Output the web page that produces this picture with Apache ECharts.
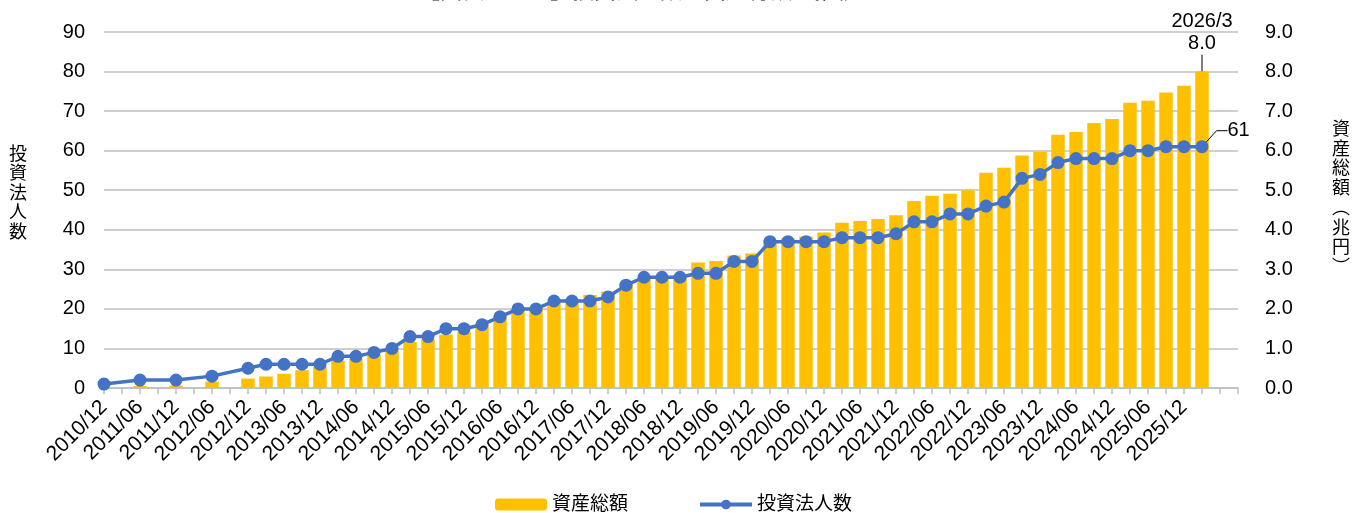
<!DOCTYPE html>
<html>
<head>
<meta charset="utf-8">
<script src="https://cdn.jsdelivr.net/npm/echarts@6/dist/echarts.min.js"></script>
<style>
  html, body { margin: 0; padding: 0; background: #fff; }
  #chart { width: 1367px; height: 513px; }
</style>
</head>
<body>
<div id="chart"></div>
<script>
// quarterly periods, early years are semi-annual only (nulls in between)
var periods = [
  '2010/12','2011/03','2011/06','2011/09','2011/12','2012/03','2012/06','2012/09','2012/12',
  '2013/03','2013/06','2013/09','2013/12','2014/03','2014/06','2014/09','2014/12',
  '2015/03','2015/06','2015/09','2015/12','2016/03','2016/06','2016/09','2016/12',
  '2017/03','2017/06','2017/09','2017/12','2018/03','2018/06','2018/09','2018/12',
  '2019/03','2019/06','2019/09','2019/12','2020/03','2020/06','2020/09','2020/12',
  '2021/03','2021/06','2021/09','2021/12','2022/03','2022/06','2022/09','2022/12',
  '2023/03','2023/06','2023/09','2023/12','2024/03','2024/06','2024/09','2024/12',
  '2025/03','2025/06','2025/09','2025/12','2026/03','',''
];
var lastPeriodText = '2026/3';

// 資産総額（兆円）
var assets = [
  null, null, 0.05, null, 0.06, null, 0.16, null, 0.24,
  0.29, 0.36, 0.45, 0.53, 0.69, 0.73, 0.84, 0.96,
  1.16, 1.23, 1.35, 1.42, 1.60, 1.83, 2.00, 2.03,
  2.17, 2.19, 2.35, 2.44, 2.65, 2.78, 2.81, 2.85,
  3.17, 3.21, 3.35, 3.40, 3.74, 3.79, 3.83, 3.93,
  4.18, 4.22, 4.27, 4.37, 4.73, 4.86, 4.91, 5.00,
  5.44, 5.57, 5.88, 5.97, 6.40, 6.47, 6.70, 6.80,
  7.21, 7.26, 7.47, 7.64, 8.0
];

// 投資法人数
var corps = [
  1, null, 2, null, 2, null, 3, null, 5,
  6, 6, 6, 6, 8, 8, 9, 10,
  13, 13, 15, 15, 16, 18, 20, 20,
  22, 22, 22, 23, 26, 28, 28, 28,
  29, 29, 32, 32, 37, 37, 37, 37,
  38, 38, 38, 39, 42, 42, 44, 44,
  46, 47, 53, 54, 57, 58, 58, 58,
  60, 60, 61, 61, 61
];

var leftTicks = [0, 90, 10];
var rightTicks = [0, 9, 1];

var FONT = "'Liberation Sans', 'Noto Sans CJK JP', sans-serif";
var last = assets.length - 1;

var barData = assets.map(function (v, i) {
  if (i !== last) return v;
  return {
    value: v,
    label: {
      show: true, position: 'top', distance: 5,
      formatter: lastPeriodText + '\n' + v.toFixed(1),
      fontSize: 20, lineHeight: 22, color: '#000', fontFamily: FONT
    }
  };
});

var lineData = corps.map(function (v, i) {
  if (i !== last) return v;
  return {
    value: v,
    label: {
      show: true, position: 'right', distance: 5,
      formatter: '' + v, padding: [0, 0, 0, 6],
      fontSize: 20, color: '#000', fontFamily: FONT
    }
  };
});

var myChart = echarts.init(document.getElementById('chart'));
var option = {
  animation: false,
  backgroundColor: '#fff',
  textStyle: { fontFamily: FONT },
  title: {
    text: '【図表１－１】投資法人数と資産総額の推移',
    left: 413, top: -24,
    textStyle: { fontSize: 22, fontWeight: 'normal', color: '#000', fontFamily: FONT }
  },
  graphic: [
    {
      type: 'text', left: 9, top: 145,
      style: { text: '投\n資\n法\n人\n数', font: '18px ' + FONT, lineHeight: 19.5, fill: '#000' }
    },
    {
      type: 'text', left: 1332, top: 120,
      style: { text: '資\n産\n総\n額\n︵\n兆\n円\n︶', font: '18px ' + FONT, lineHeight: 19.75, fill: '#000' }
    }
  ],
  legend: {
    left: 490, top: 490,
    itemWidth: 52, itemHeight: 12, itemGap: 70,
    textStyle: { fontSize: 19, color: '#000', fontFamily: FONT },
    lineStyle: { width: 4 },
    data: ['資産総額', '投資法人数']
  },
  grid: { left: 104, right: 129, top: 32, bottom: 125 },
  xAxis: {
    type: 'category',
    data: periods,
    boundaryGap: false,
    axisLine: { lineStyle: { color: '#BFBFBF', width: 1.5 } },
    axisTick: { interval: 0, length: 6, lineStyle: { color: '#BFBFBF', width: 1.5 } },
    axisLabel: { interval: 1, rotate: 45, margin: 16, fontSize: 21, color: '#000', fontFamily: FONT }
  },
  yAxis: [
    {
      type: 'value', min: leftTicks[0], max: leftTicks[1], interval: leftTicks[2],
      axisLine: { show: false }, axisTick: { show: false },
      axisLabel: { fontSize: 20, color: '#000', margin: 19, fontFamily: FONT },
      splitLine: { lineStyle: { color: '#BFBFBF', width: 1.5 } }
    },
    {
      type: 'value', min: rightTicks[0], max: rightTicks[1], interval: rightTicks[2],
      axisLine: { show: false }, axisTick: { show: false },
      axisLabel: {
        fontSize: 20, color: '#000', margin: 27, fontFamily: FONT,
        formatter: function (v) { return v.toFixed(1); }
      },
      splitLine: { show: false }
    }
  ],
  series: [
    {
      name: '資産総額',
      type: 'bar',
      yAxisIndex: 1,
      barWidth: 13.5,
      itemStyle: { color: '#FFC000' },
      data: barData,
      labelLayout: function (p) {
        if (p.dataIndex === last) return { dy: -12 };
      },
      labelLine: { show: true, length2: 0, lineStyle: { color: '#000', width: 1 } }
    },
    {
      name: '投資法人数',
      type: 'line',
      yAxisIndex: 0,
      connectNulls: true,
      showAllSymbol: true,
      symbol: 'circle',
      symbolSize: 13,
      lineStyle: { color: '#4472C4', width: 3.5 },
      itemStyle: { color: '#4472C4' },
      data: lineData,
      labelLayout: function (p) {
        if (p.dataIndex === last) return { dx: 8, dy: -16 };
      },
      labelLine: { show: true, length2: 11, lineStyle: { color: '#000', width: 1 } }
    }
  ]
};
myChart.setOption(option);
</script>
</body>
</html>
